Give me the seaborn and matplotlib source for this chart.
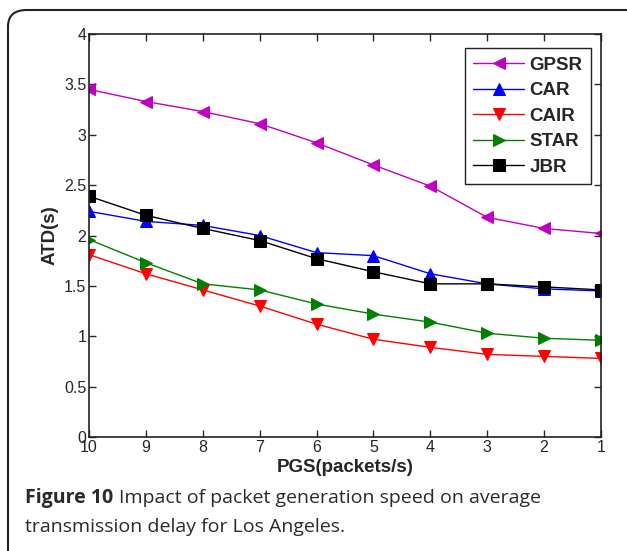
import pandas as pd
import matplotlib
matplotlib.use('Agg')
import matplotlib.pyplot as plt
from matplotlib.patches import FancyBboxPatch
import seaborn as sns

# Datos
pgs = [10, 9, 8, 7, 6, 5, 4, 3, 2, 1]
gpsr = [3.45, 3.33, 3.23, 3.11, 2.92, 2.70, 2.49, 2.18, 2.07, 2.02]
car = [2.24, 2.14, 2.10, 2.00, 1.83, 1.80, 1.62, 1.52, 1.47, 1.45]
cair = [1.81, 1.62, 1.46, 1.30, 1.12, 0.97, 0.89, 0.82, 0.80, 0.78]
star = [1.96, 1.73, 1.52, 1.46, 1.32, 1.22, 1.14, 1.03, 0.98, 0.96]
jbr = [2.39, 2.20, 2.07, 1.95, 1.77, 1.64, 1.52, 1.52, 1.49, 1.46]

series = {'GPSR': gpsr, 'CAR': car, 'CAIR': cair, 'STAR': star, 'JBR': jbr}
colors = {'GPSR': '#c000c0', 'CAR': '#0000ff', 'CAIR': '#ff0000',
          'STAR': '#008000', 'JBR': '#000000'}
markers = {'GPSR': '<', 'CAR': '^', 'CAIR': 'v', 'STAR': '>', 'JBR': 's'}

df = pd.DataFrame([
    {'PGS': x, 'ATD': y, 'method': name}
    for name, vals in series.items() for x, y in zip(pgs, vals)
])

sns.set_style("ticks")
plt.rcParams['font.family'] = ['Liberation Sans', 'DejaVu Sans']

fig = plt.figure(figsize=(6.27, 5.51), dpi=100)
ax = fig.add_axes([89 / 627, 1 - 437 / 551, 512 / 627, 403 / 551])

for name in series:
    sns.lineplot(data=df[df['method'] == name], x='PGS', y='ATD', ax=ax,
                 color=colors[name], marker=markers[name], markersize=9,
                 markeredgecolor=colors[name], linewidth=1, label=name,
                 sort=False)

ax.set_xlim(10, 1)
ax.set_ylim(0, 4)
ax.set_xticks(range(10, 0, -1))
ax.set_yticks([0, 0.5, 1, 1.5, 2, 2.5, 3, 3.5, 4])
ax.set_yticklabels(['0', '0.5', '1', '1.5', '2', '2.5', '3', '3.5', '4'])
ax.tick_params(direction='in', top=True, right=True, length=5, width=1,
               labelsize=11.5, pad=2)
for s in ax.spines.values():
    s.set_linewidth(1.2)
    s.set_color('#222222')

ax.set_xlabel('PGS(packets/s)', fontsize=13.5, fontweight='bold', labelpad=3)
ax.set_ylabel('ATD(s)', fontsize=13.5, fontweight='bold', labelpad=4)

leg = ax.legend(loc='upper right', bbox_to_anchor=(0.9805, 0.965),
                fancybox=False, edgecolor='#222222', framealpha=1,
                prop={'weight': 'bold', 'size': 13.5}, handlelength=2.7,
                borderpad=0.45, labelspacing=0.45, handletextpad=0.3,
                borderaxespad=0)
leg.get_frame().set_linewidth(1)

# Marco redondeado de la figura
box = FancyBboxPatch((8 / 627, -0.05), 1.2, 1 - 10 / 551 + 0.05,
                     boxstyle='round,pad=0,rounding_size=0.03',
                     transform=fig.transFigure, fill=False,
                     edgecolor='#222222', linewidth=1.5, clip_on=False)
fig.patches.append(box)

# Pie de figura
cap_size = 14
t1 = fig.text(25 / 627, 1 - 498 / 551, 'Figure 10', fontsize=cap_size,
              fontweight='bold', family='Open Sans', color='#2a2a2a',
              va='center')
fig.canvas.draw()
bb = t1.get_window_extent()
fig.text((bb.x1 + 6) / 627, 1 - 498 / 551,
         'Impact of packet generation speed on average',
         fontsize=cap_size, family='Open Sans', color='#2a2a2a', va='center')
fig.text(25 / 627, 1 - 527 / 551, 'transmission delay for Los Angeles.',
         fontsize=cap_size, family='Open Sans', color='#2a2a2a', va='center')

fig.savefig('out.png', dpi=100)
